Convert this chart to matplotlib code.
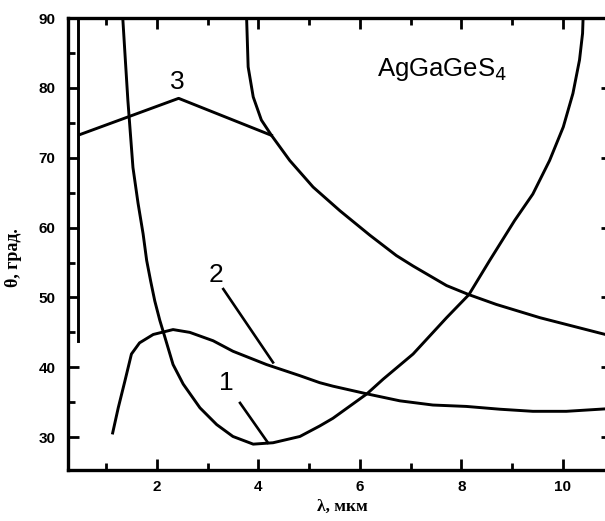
import numpy as np
import matplotlib.pyplot as plt
from matplotlib.ticker import MultipleLocator

# ---- данные (λ в мкм, θ в градусах) ----
# кривая 1: U-образная
c1_lam = [1.33, 1.38, 1.43, 1.53, 1.63, 1.73, 1.80, 1.88, 1.96, 2.06, 2.16, 2.32,
          2.52, 2.85, 3.18, 3.50, 3.90, 4.29, 4.82, 5.21, 5.47, 6.14, 6.46, 7.05,
          7.71, 8.15, 8.56, 9.05, 9.41, 9.74, 10.01, 10.20, 10.33, 10.39, 10.40]
c1_th = [89.9, 84.0, 78.2, 68.6, 63.5, 59.1, 55.3, 52.3, 49.5, 46.7, 44.3, 40.4,
         37.6, 34.2, 31.8, 30.1, 29.0, 29.2, 30.1, 31.6, 32.7, 36.2, 38.3, 41.9,
         47.1, 50.4, 55.3, 61.0, 64.8, 69.6, 74.4, 79.2, 84.0, 87.8, 89.9]

# кривая 2 (нижняя, с максимумом)
c2_lam = [1.13, 1.24, 1.37, 1.50, 1.66, 1.93, 2.32, 2.65, 3.11, 3.50, 4.16, 4.82,
          5.21, 5.47, 6.14, 6.79, 7.44, 8.10, 8.76, 9.41, 10.07, 10.73, 10.95]
c2_th = [30.6, 34.2, 38.0, 41.9, 43.5, 44.7, 45.4, 45.0, 43.8, 42.3, 40.4, 38.8,
         37.8, 37.3, 36.2, 35.2, 34.6, 34.4, 34.0, 33.7, 33.7, 34.0, 34.1]

# верхняя правая ветвь
c4_lam = [3.77, 3.80, 3.90, 4.06, 4.26, 4.62, 5.08, 5.61, 6.20, 6.72, 7.05, 7.71,
          8.15, 8.69, 9.55, 10.73, 10.95]
c4_th = [89.9, 83.0, 78.7, 75.4, 73.2, 69.6, 65.8, 62.4, 58.9, 56.0, 54.5, 51.7,
         50.4, 49.0, 47.1, 44.9, 44.5]

# кривая 3: ломаная
c3_lam = [0.48, 2.43, 4.26]
c3_th = [73.3, 78.5, 73.2]

# вертикальная граница у левой оси
edge_lam = [0.44, 0.44]
edge_th = [43.7, 89.9]

# подписи кривых и выноски
labels = ["1", "2", "3"]
label_xy = [(3.37, 37.8), (3.17, 53.2), (2.41, 80.8)]
leaders = [([3.64, 4.19], [34.9, 29.2]), ([3.31, 4.29], [51.2, 40.7])]

plt.rcParams["font.family"] = ["Liberation Sans", "DejaVu Sans"]

fig = plt.figure(figsize=(6.05, 5.21), dpi=100)
ax = fig.add_axes([68 / 605, 1 - 470 / 521, (612 - 68) / 605, (470 - 18) / 521])

lw = 2.1
for lx, ly in [(c1_lam, c1_th), (c2_lam, c2_th), (c4_lam, c4_th),
               (c3_lam, c3_th), (edge_lam, edge_th)]:
    ax.plot(lx, ly, color="black", lw=lw, solid_joinstyle="round")
for lx, ly in leaders:
    ax.plot(lx, ly, color="black", lw=1.9)
for txt, (x, y) in zip(labels, label_xy):
    ax.text(x, y, txt, fontsize=19, ha="center", va="center")

ax.text(7.62, 82.6, "AgGaGeS$_4$", fontsize=18.5, ha="center", va="center")

ax.set_xlim(0.25, 10.97)
ax.set_ylim(25.3, 90)

ax.xaxis.set_major_locator(MultipleLocator(2))
ax.xaxis.set_minor_locator(MultipleLocator(1))
ax.yaxis.set_major_locator(MultipleLocator(10))
ax.yaxis.set_minor_locator(MultipleLocator(5))
ax.tick_params(which="both", direction="in", top=True, right=True, width=2)
ax.tick_params(which="major", length=8)
ax.tick_params(which="minor", length=5)
ax.tick_params(axis="y", which="major", pad=9)
ax.tick_params(axis="x", which="major", pad=7)
for lab in ax.get_xticklabels() + ax.get_yticklabels():
    lab.set_fontweight("bold")
    lab.set_fontsize(11)
for sp in ax.spines.values():
    sp.set_linewidth(2.4)

ax.set_xlabel("λ, мкм", family=["Liberation Serif", "DejaVu Serif"],
              fontweight="bold", fontsize=12.5)
ax.set_ylabel("θ, град.", family=["Liberation Serif", "DejaVu Serif"],
              fontweight="bold", fontsize=13)
ax.xaxis.set_label_coords(0.505, -0.064)
ax.yaxis.set_label_coords(-0.085, 0.47)

fig.savefig("out.png", dpi=100)
